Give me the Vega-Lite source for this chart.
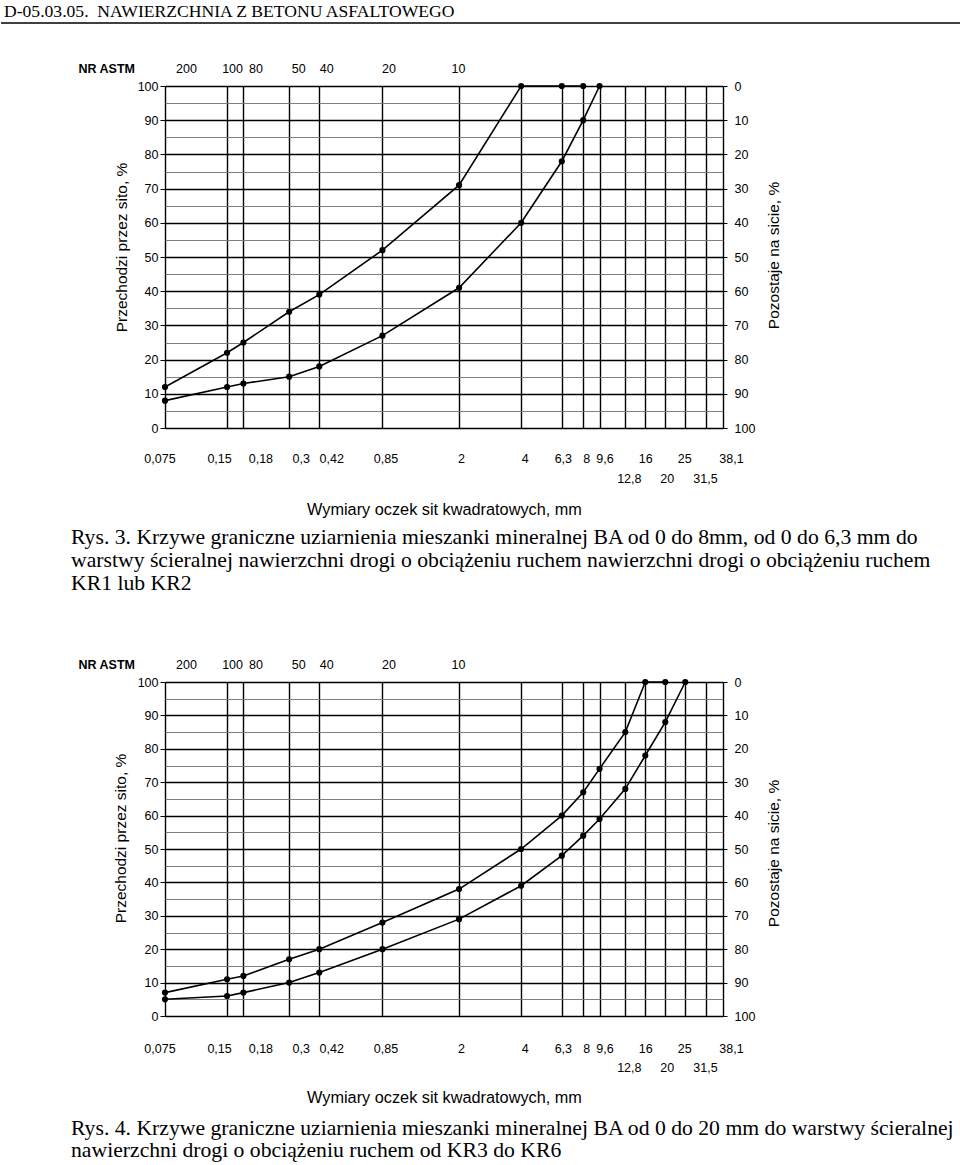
{
  "$schema": "https://vega.github.io/schema/vega-lite/v6.json",
  "background": "white",
  "padding": {"left": 0, "top": 2, "right": 0, "bottom": 0},
  "datasets": {
    "rys3": [
      {"sito": 0.075, "przechodzi": 12, "krzywa": "górna"},
      {"sito": 0.15, "przechodzi": 22, "krzywa": "górna"},
      {"sito": 0.18, "przechodzi": 25, "krzywa": "górna"},
      {"sito": 0.3, "przechodzi": 34, "krzywa": "górna"},
      {"sito": 0.42, "przechodzi": 39, "krzywa": "górna"},
      {"sito": 0.85, "przechodzi": 52, "krzywa": "górna"},
      {"sito": 2, "przechodzi": 71, "krzywa": "górna"},
      {"sito": 4, "przechodzi": 100, "krzywa": "górna"},
      {"sito": 6.3, "przechodzi": 100, "krzywa": "górna"},
      {"sito": 8, "przechodzi": 100, "krzywa": "górna"},
      {"sito": 0.075, "przechodzi": 8, "krzywa": "dolna"},
      {"sito": 0.15, "przechodzi": 12, "krzywa": "dolna"},
      {"sito": 0.18, "przechodzi": 13, "krzywa": "dolna"},
      {"sito": 0.3, "przechodzi": 15, "krzywa": "dolna"},
      {"sito": 0.42, "przechodzi": 18, "krzywa": "dolna"},
      {"sito": 0.85, "przechodzi": 27, "krzywa": "dolna"},
      {"sito": 2, "przechodzi": 41, "krzywa": "dolna"},
      {"sito": 4, "przechodzi": 60, "krzywa": "dolna"},
      {"sito": 6.3, "przechodzi": 78, "krzywa": "dolna"},
      {"sito": 8, "przechodzi": 90, "krzywa": "dolna"},
      {"sito": 9.6, "przechodzi": 100, "krzywa": "dolna"}
    ],
    "rys4": [
      {"sito": 0.075, "przechodzi": 7, "krzywa": "górna"},
      {"sito": 0.15, "przechodzi": 11, "krzywa": "górna"},
      {"sito": 0.18, "przechodzi": 12, "krzywa": "górna"},
      {"sito": 0.3, "przechodzi": 17, "krzywa": "górna"},
      {"sito": 0.42, "przechodzi": 20, "krzywa": "górna"},
      {"sito": 0.85, "przechodzi": 28, "krzywa": "górna"},
      {"sito": 2, "przechodzi": 38, "krzywa": "górna"},
      {"sito": 4, "przechodzi": 50, "krzywa": "górna"},
      {"sito": 6.3, "przechodzi": 60, "krzywa": "górna"},
      {"sito": 8, "przechodzi": 67, "krzywa": "górna"},
      {"sito": 9.6, "przechodzi": 74, "krzywa": "górna"},
      {"sito": 12.8, "przechodzi": 85, "krzywa": "górna"},
      {"sito": 16, "przechodzi": 100, "krzywa": "górna"},
      {"sito": 20, "przechodzi": 100, "krzywa": "górna"},
      {"sito": 0.075, "przechodzi": 5, "krzywa": "dolna"},
      {"sito": 0.15, "przechodzi": 6, "krzywa": "dolna"},
      {"sito": 0.18, "przechodzi": 7, "krzywa": "dolna"},
      {"sito": 0.3, "przechodzi": 10, "krzywa": "dolna"},
      {"sito": 0.42, "przechodzi": 13, "krzywa": "dolna"},
      {"sito": 0.85, "przechodzi": 20, "krzywa": "dolna"},
      {"sito": 2, "przechodzi": 29, "krzywa": "dolna"},
      {"sito": 4, "przechodzi": 39, "krzywa": "dolna"},
      {"sito": 6.3, "przechodzi": 48, "krzywa": "dolna"},
      {"sito": 8, "przechodzi": 54, "krzywa": "dolna"},
      {"sito": 9.6, "przechodzi": 59, "krzywa": "dolna"},
      {"sito": 12.8, "przechodzi": 68, "krzywa": "dolna"},
      {"sito": 16, "przechodzi": 78, "krzywa": "dolna"},
      {"sito": 20, "przechodzi": 88, "krzywa": "dolna"},
      {"sito": 25, "przechodzi": 100, "krzywa": "dolna"}
    ],
    "naglowek": [{"linia": 1}],
    "pusty": []
  },
  "vconcat": [
    {
      "width": 960,
      "height": 1,
      "data": {"name": "naglowek"},
      "title": {"text": "D-05.03.05.\u00a0\u00a0NAWIERZCHNIA Z BETONU ASFALTOWEGO", "anchor": "start", "frame": "group", "dx": 3, "offset": 2, "font": "Liberation Serif", "fontSize": 17.6, "fontWeight": "normal", "color": "black"},
      "mark": {"type": "rule", "color": "black", "strokeWidth": 1.5},
      "encoding": {"y": {"field": "linia", "type": "quantitative", "scale": {"domain": [0, 1]}, "axis": null}}
    },
    {
      "hconcat": [
        {
          "width": 1,
          "height": 1,
          "data": {"name": "pusty"},
          "mark": "point",
          "encoding": {}
        },
        {
          "vconcat": [
            {
              "width": 558,
              "height": 342,
              "data": {"name": "rys3"},
              "title": {"text": ["Rys. 3. Krzywe graniczne uziarnienia mieszanki mineralnej BA od 0 do 8mm, od 0 do 6,3 mm do", "warstwy ścieralnej nawierzchni drogi o obciążeniu ruchem nawierzchni drogi o obciążeniu ruchem", "KR1 lub KR2"], "orient": "bottom", "anchor": "start", "frame": "group", "dx": -94, "offset": 10, "font": "Liberation Serif", "fontSize": 21.7, "fontWeight": "normal", "lineHeight": 23, "color": "black"},
              "layer": [
                {
                  "mark": {"type": "line", "color": "black", "strokeWidth": 1.6},
                  "encoding": {
                    "x": {"field": "sito", "type": "quantitative", "scale": {"type": "log", "domain": [0.075, 38.1], "nice": false},
                      "axis": {"orient": "bottom", "values": [0.075, 0.15, 0.18, 0.3, 0.42, 0.85, 2, 4, 6.3, 8, 9.6, 12.8, 16, 20, 25, 31.5, 38.1], "labelExpr": "indexof([12.8, 20, 31.5], datum.value) >= 0 ? '' : replace(toString(datum.value), '.', ',')", "labelOffset": {"expr": "datum.value == 0.075 ? -5.5 : datum.value == 0.15 ? -8 : datum.value == 0.18 ? 17 : datum.value == 0.3 ? 11.5 : datum.value == 0.42 ? 12 : datum.value == 0.85 ? 3 : datum.value == 6.3 ? 1 : datum.value == 8 ? 3 : datum.value == 9.6 ? 5 : datum.value == 38.1 ? 8 : datum.value == 4 ? 3.5 : datum.value == 16 ? 0 : datum.value == 25 ? -1 : 2"}, "grid": true, "gridColor": "black", "gridWidth": 1.4, "ticks": false, "tickSize": 0, "labelPadding": 30.5, "labelBaseline": "middle", "labelOverlap": false, "labelFlush": false, "title": null}},
                    "y": {"field": "przechodzi", "type": "quantitative", "scale": {"domain": [0, 100], "nice": false},
                      "axis": {"orient": "left", "values": [0, 5, 10, 15, 20, 25, 30, 35, 40, 45, 50, 55, 60, 65, 70, 75, 80, 85, 90, 95, 100], "labelExpr": "datum.value % 10 == 0 ? datum.label : ''", "grid": true, "gridColor": {"condition": {"test": "datum.value % 10 == 0", "value": "black"}, "value": "#707070"}, "gridWidth": {"condition": {"test": "datum.value % 10 == 0", "value": 1.4}, "value": 0.9}, "tickSize": 5, "tickColor": {"condition": {"test": "datum.value % 10 == 0", "value": "black"}, "value": "transparent"}, "labelPadding": 2, "labelOverlap": false, "title": "Przechodzi przez sito, %", "titleAngle": 270, "titleX": -44, "titleY": 161, "titleBaseline": "middle", "titleAlign": "center", "titleFontSize": 15.5}},
                    "detail": {"field": "krzywa"}
                  }
                },
                {
                  "transform": [{"filter": "datum.krzywa == 'górna'"}],
                  "mark": {"type": "point", "filled": true, "color": "black", "size": 38, "opacity": 1},
                  "encoding": {
                    "x": {"field": "sito", "type": "quantitative", "scale": {"type": "log", "domain": [0.075, 38.1], "nice": false},
                      "axis": {"orient": "bottom", "values": [12.8, 20, 31.5], "labelExpr": "replace(toString(datum.value), '.', ',')", "labelOffset": {"expr": "datum.value == 12.8 ? 3.5 : datum.value == 20 ? 1.5 : -1"}, "grid": false, "ticks": false, "tickSize": 0, "labelPadding": 50.5, "labelBaseline": "middle", "labelOverlap": false, "labelFlush": false, "title": "Wymiary oczek sit kwadratowych, mm", "titleY": 81, "titleBaseline": "middle", "titleFontSize": 16.3}},
                    "y": {"field": "przechodzi", "type": "quantitative", "scale": {"domain": [0, 100], "nice": false},
                      "axis": {"orient": "right", "values": [0, 10, 20, 30, 40, 50, 60, 70, 80, 90, 100], "labelExpr": "toString(100 - datum.value)", "grid": false, "tickSize": 4, "labelPadding": 7, "labelOverlap": false, "title": "Pozostaje na sicie, %", "titleAngle": 270, "titleX": 50, "titleY": 169, "titleBaseline": "middle", "titleAlign": "center", "titleFontSize": 15.5}}
                  }
                },
                {
                  "transform": [{"filter": "datum.krzywa == 'dolna'"}],
                  "mark": {"type": "point", "filled": true, "color": "black", "size": 38, "opacity": 1},
                  "encoding": {
                    "x": {"field": "sito", "type": "quantitative", "scale": {"type": "log", "domain": [0.075, 38.1], "nice": false},
                      "axis": {"orient": "top", "values": [0.075, 0.15, 0.18, 0.3, 0.42, 0.85, 2], "labelExpr": "datum.value < 0.1 ? '200' : datum.value < 0.16 ? '100' : datum.value < 0.2 ? '80' : datum.value < 0.35 ? '50' : datum.value < 0.5 ? '40' : datum.value < 1 ? '20' : '10'", "labelOffset": {"expr": "datum.value == 0.075 ? 21 : datum.value == 0.15 ? 5 : datum.value == 0.18 ? 12 : datum.value == 0.3 ? 9 : datum.value == 0.42 ? 7 : datum.value == 0.85 ? 6 : -1"}, "grid": false, "ticks": false, "tickSize": 0, "labelPadding": 18, "labelBaseline": "middle", "labelOverlap": false, "labelFlush": false, "title": "NR ASTM", "titleX": -87, "titleY": -18, "titleAlign": "left", "titleBaseline": "middle", "titleAngle": 0, "titleFontSize": 12.5, "titleFontWeight": "bold"}},
                    "y": {"field": "przechodzi", "type": "quantitative", "scale": {"domain": [0, 100], "nice": false}, "axis": null}
                  }
                }
              ],
              "resolve": {"axis": {"x": "independent", "y": "independent"}}
            },
            {
              "width": 558,
              "height": 334,
              "data": {"name": "rys4"},
              "title": {"text": ["Rys. 4. Krzywe graniczne uziarnienia mieszanki mineralnej BA od 0 do 20 mm do warstwy ścieralnej", "nawierzchni drogi o obciążeniu ruchem od KR3 do KR6"], "orient": "bottom", "anchor": "start", "frame": "group", "dx": -94, "offset": 13, "font": "Liberation Serif", "fontSize": 21.7, "fontWeight": "normal", "lineHeight": 22, "color": "black"},
              "layer": [
                {
                  "mark": {"type": "line", "color": "black", "strokeWidth": 1.6},
                  "encoding": {
                    "x": {"field": "sito", "type": "quantitative", "scale": {"type": "log", "domain": [0.075, 38.1], "nice": false},
                      "axis": {"orient": "bottom", "values": [0.075, 0.15, 0.18, 0.3, 0.42, 0.85, 2, 4, 6.3, 8, 9.6, 12.8, 16, 20, 25, 31.5, 38.1], "labelExpr": "indexof([12.8, 20, 31.5], datum.value) >= 0 ? '' : replace(toString(datum.value), '.', ',')", "labelOffset": {"expr": "datum.value == 0.075 ? -5.5 : datum.value == 0.15 ? -8 : datum.value == 0.18 ? 17 : datum.value == 0.3 ? 11.5 : datum.value == 0.42 ? 12 : datum.value == 0.85 ? 3 : datum.value == 6.3 ? 1 : datum.value == 8 ? 3 : datum.value == 9.6 ? 5 : datum.value == 38.1 ? 8 : datum.value == 4 ? 3.5 : datum.value == 16 ? 0 : datum.value == 25 ? -1 : 2"}, "grid": true, "gridColor": "black", "gridWidth": 1.4, "ticks": false, "tickSize": 0, "labelPadding": 32, "labelBaseline": "middle", "labelOverlap": false, "labelFlush": false, "title": null}},
                    "y": {"field": "przechodzi", "type": "quantitative", "scale": {"domain": [0, 100], "nice": false},
                      "axis": {"orient": "left", "values": [0, 5, 10, 15, 20, 25, 30, 35, 40, 45, 50, 55, 60, 65, 70, 75, 80, 85, 90, 95, 100], "labelExpr": "datum.value % 10 == 0 ? datum.label : ''", "grid": true, "gridColor": {"condition": {"test": "datum.value % 10 == 0", "value": "black"}, "value": "#707070"}, "gridWidth": {"condition": {"test": "datum.value % 10 == 0", "value": 1.4}, "value": 0.9}, "tickSize": 5, "tickColor": {"condition": {"test": "datum.value % 10 == 0", "value": "black"}, "value": "transparent"}, "labelPadding": 2, "labelOverlap": false, "title": "Przechodzi przez sito, %", "titleAngle": 270, "titleX": -45, "titleY": 156, "titleBaseline": "middle", "titleAlign": "center", "titleFontSize": 15.5}},
                    "detail": {"field": "krzywa"}
                  }
                },
                {
                  "transform": [{"filter": "datum.krzywa == 'górna'"}],
                  "mark": {"type": "point", "filled": true, "color": "black", "size": 38, "opacity": 1},
                  "encoding": {
                    "x": {"field": "sito", "type": "quantitative", "scale": {"type": "log", "domain": [0.075, 38.1], "nice": false},
                      "axis": {"orient": "bottom", "values": [12.8, 20, 31.5], "labelExpr": "replace(toString(datum.value), '.', ',')", "labelOffset": {"expr": "datum.value == 12.8 ? 3.5 : datum.value == 20 ? 1.5 : -1"}, "grid": false, "ticks": false, "tickSize": 0, "labelPadding": 51, "labelBaseline": "middle", "labelOverlap": false, "labelFlush": false, "title": "Wymiary oczek sit kwadratowych, mm", "titleY": 81, "titleBaseline": "middle", "titleFontSize": 16.3}},
                    "y": {"field": "przechodzi", "type": "quantitative", "scale": {"domain": [0, 100], "nice": false},
                      "axis": {"orient": "right", "values": [0, 10, 20, 30, 40, 50, 60, 70, 80, 90, 100], "labelExpr": "toString(100 - datum.value)", "grid": false, "tickSize": 4, "labelPadding": 7, "labelOverlap": false, "title": "Pozostaje na sicie, %", "titleAngle": 270, "titleX": 50, "titleY": 171, "titleBaseline": "middle", "titleAlign": "center", "titleFontSize": 15.5}}
                  }
                },
                {
                  "transform": [{"filter": "datum.krzywa == 'dolna'"}],
                  "mark": {"type": "point", "filled": true, "color": "black", "size": 38, "opacity": 1},
                  "encoding": {
                    "x": {"field": "sito", "type": "quantitative", "scale": {"type": "log", "domain": [0.075, 38.1], "nice": false},
                      "axis": {"orient": "top", "values": [0.075, 0.15, 0.18, 0.3, 0.42, 0.85, 2], "labelExpr": "datum.value < 0.1 ? '200' : datum.value < 0.16 ? '100' : datum.value < 0.2 ? '80' : datum.value < 0.35 ? '50' : datum.value < 0.5 ? '40' : datum.value < 1 ? '20' : '10'", "labelOffset": {"expr": "datum.value == 0.075 ? 21 : datum.value == 0.15 ? 5 : datum.value == 0.18 ? 12 : datum.value == 0.3 ? 9 : datum.value == 0.42 ? 7 : datum.value == 0.85 ? 6 : -1"}, "grid": false, "ticks": false, "tickSize": 0, "labelPadding": 18, "labelBaseline": "middle", "labelOverlap": false, "labelFlush": false, "title": "NR ASTM", "titleX": -87, "titleY": -18, "titleAlign": "left", "titleBaseline": "middle", "titleAngle": 0, "titleFontSize": 12.5, "titleFontWeight": "bold"}},
                    "y": {"field": "przechodzi", "type": "quantitative", "scale": {"domain": [0, 100], "nice": false}, "axis": null}
                  }
                }
              ],
              "resolve": {"axis": {"x": "independent", "y": "independent"}}
            }
          ],
          "spacing": 254,
          "bounds": "flush"
        }
      ],
      "spacing": 163,
      "bounds": "flush"
    }
  ],
  "spacing": 62,
  "bounds": "flush",
  "config": {
    "view": {"stroke": null},
    "axis": {"labelFont": "Liberation Sans", "labelFontSize": 12.5, "labelColor": "black", "titleFont": "Liberation Sans", "titleFontWeight": "normal", "titleColor": "black", "domain": false, "tickColor": "black"}
  }
}
